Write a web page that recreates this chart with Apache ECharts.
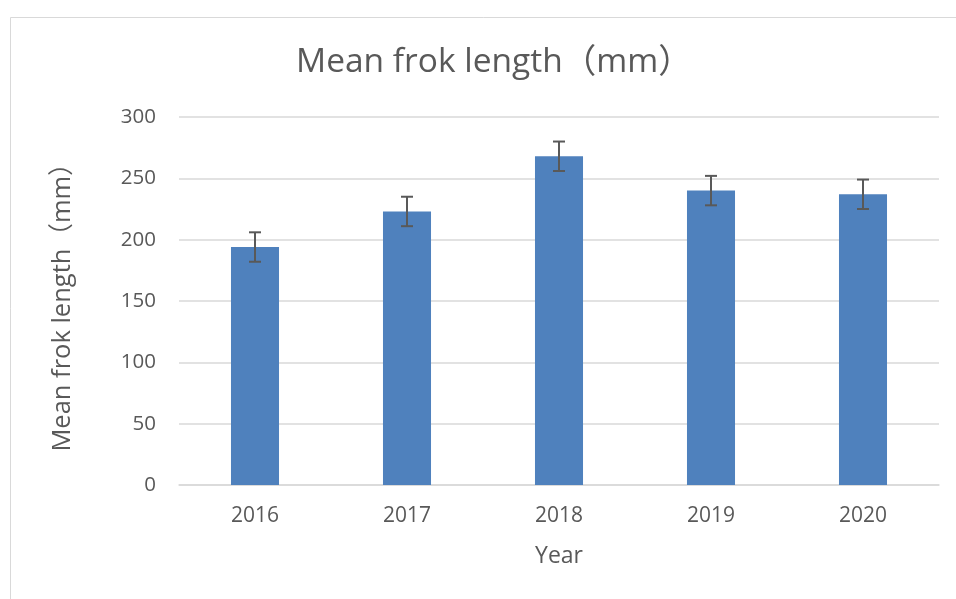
<!DOCTYPE html>
<html>
<head>
<meta charset="utf-8">
<script src="https://cdn.jsdelivr.net/npm/echarts@6/dist/echarts.min.js"></script>
<style>html,body{margin:0;padding:0;background:#fff;}#chart{width:956px;height:599px;}</style>
</head>
<body>
<div id="chart"></div>
<script>
const categories = ['2016', '2017', '2018', '2019', '2020'];
const meanValues = [194, 223, 268, 240, 237];
const errorValues = [12, 12, 12, 12, 12];
const yTicks = [0, 50, 100, 150, 200, 250, 300];

const FONT = '"Open Sans", "Noto Sans CJK SC", sans-serif';
const TXT = '#595959';

const chart = echarts.init(document.getElementById('chart'));
const errData = categories.map((c, i) => [i, meanValues[i] - errorValues[i], meanValues[i] + errorValues[i]]);

chart.setOption({
  backgroundColor: '#fff',
  animation: false,
  graphic: [{
    type: 'rect', left: 8, top: 15, shape: { width: 960, height: 600 },
    style: { fill: 'none', stroke: '#d9d9d9', lineWidth: 1 }, silent: true, z: -1
  }],
  title: {
    text: 'Mean frok length（mm）', left: 291, top: 41,
    textStyle: { fontFamily: FONT, fontSize: 33.5, fontWeight: 'normal', color: TXT }
  },
  grid: { left: 179, right: 17, top: 117, bottom: 114 },
  xAxis: {
    type: 'category', data: categories,
    name: 'Year', nameLocation: 'middle', nameGap: 60,
    nameTextStyle: { fontFamily: FONT, fontSize: 23, color: TXT },
    axisLine: { lineStyle: { color: '#d9d9d9', width: 1.5 } },
    axisTick: { show: false },
    axisLabel: { fontFamily: FONT, fontSize: 21, color: TXT, margin: 21 }
  },
  yAxis: {
    type: 'value', min: yTicks[0], max: yTicks[yTicks.length - 1], interval: 50,
    name: 'Mean frok length（mm）', nameLocation: 'middle', nameGap: 104,
    nameTextStyle: { fontFamily: FONT, fontSize: 25.5, color: TXT },
    axisLine: { show: false }, axisTick: { show: false },
    splitLine: { lineStyle: { color: '#d9d9d9', width: 1.5 } },
    axisLabel: { fontFamily: FONT, fontSize: 20.5, color: TXT, margin: 23 }
  },
  series: [{
    type: 'bar', data: meanValues, barWidth: '31.6%',
    itemStyle: { color: '#4f81bd' }
  }, {
    type: 'custom', data: errData, z: 10,
    renderItem: function (params, api) {
      const x = api.value(0);
      const lo = api.coord([x, api.value(1)]);
      const hi = api.coord([x, api.value(2)]);
      const hw = 6;
      const st = { stroke: '#595959', lineWidth: 2 };
      return { type: 'group', children: [
        { type: 'line', shape: { x1: lo[0], y1: lo[1], x2: hi[0], y2: hi[1] }, style: st },
        { type: 'line', shape: { x1: lo[0] - hw, y1: lo[1], x2: lo[0] + hw, y2: lo[1] }, style: st },
        { type: 'line', shape: { x1: hi[0] - hw, y1: hi[1], x2: hi[0] + hw, y2: hi[1] }, style: st }
      ]};
    }
  }]
});
</script>
</body>
</html>
